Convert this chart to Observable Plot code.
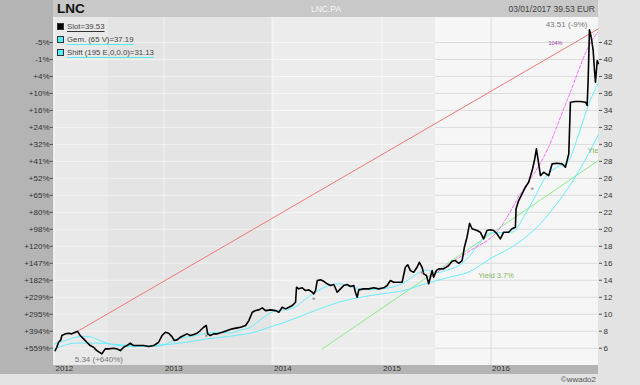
<!DOCTYPE html>
<html><head><meta charset="utf-8">
<script src="https://cdn.jsdelivr.net/npm/d3@7"></script>
<script src="https://cdn.jsdelivr.net/npm/@observablehq/plot@0.6"></script>
<style>
body{margin:0;background:#e3e3e3;font-family:"Liberation Sans",Arial,sans-serif;}
#wrap{position:relative;width:640px;height:385px;overflow:hidden;background:#e3e3e3;}
.abs{position:absolute;}
.leg{position:absolute;left:57px;font-size:7.8px;color:#444;white-space:nowrap;line-height:9px;}
.leg i{display:inline-block;width:5px;height:5px;border:1px solid #333;margin-right:3px;vertical-align:-1px;}
.leg span{text-decoration:underline;text-underline-offset:2px;text-decoration-thickness:1px;}
</style></head><body>
<div id="wrap">
 <div class="abs" style="left:0;top:0;width:53px;height:374px;background:#b4b4b4"></div>
 <div class="abs" style="left:53px;top:0;width:545px;height:17px;background:#c8c8c8"></div>
 <div class="abs" style="left:53px;top:365px;width:545px;height:9px;background:#b4b4b4"></div>
 <div id="chart" class="abs" style="left:0;top:0"></div>
 <div class="abs" style="left:57px;top:1px;font-weight:bold;font-size:13.5px;color:#111">LNC</div>
 <div class="abs" style="left:311px;top:4px;font-size:8.5px;color:#f4f4f4">LNC.PA</div>
 <div class="abs" style="right:45px;top:4px;font-size:8.5px;color:#444">03/01/2017 39.53 EUR</div>
 <div id="legend"></div>
 <div class="abs" style="right:44px;top:375px;font-size:8px;color:#555">©wwado2</div>
</div>
<script>
// ---- data (decimal years, prices in EUR) ----
const priceYears = [2012.006,2012.021,2012.037,2012.058,2012.067,2012.098,2012.128,2012.158,2012.190,2012.211,2012.235,2012.266,2012.296,2012.327,2012.357,2012.387,2012.433,2012.464,2012.495,2012.540,2012.571,2012.602,2012.632,2012.662,2012.693,2012.723,2012.769,2012.815,2012.861,2012.907,2012.952,2012.983,2013.014,2013.044,2013.074,2013.096,2013.120,2013.151,2013.181,2013.212,2013.243,2013.273,2013.303,2013.334,2013.364,2013.389,2013.401,2013.426,2013.456,2013.490,2013.536,2013.582,2013.627,2013.673,2013.703,2013.749,2013.779,2013.810,2013.841,2013.871,2013.902,2013.932,2013.978,2014.024,2014.054,2014.085,2014.115,2014.146,2014.177,2014.207,2014.216,2014.237,2014.268,2014.299,2014.329,2014.360,2014.374,2014.390,2014.406,2014.436,2014.466,2014.497,2014.527,2014.558,2014.589,2014.619,2014.649,2014.680,2014.711,2014.741,2014.756,2014.772,2014.787,2014.832,2014.878,2014.924,2014.970,2015.016,2015.047,2015.077,2015.107,2015.153,2015.184,2015.214,2015.236,2015.260,2015.290,2015.321,2015.342,2015.367,2015.382,2015.407,2015.428,2015.443,2015.459,2015.473,2015.498,2015.519,2015.565,2015.611,2015.642,2015.672,2015.703,2015.734,2015.755,2015.779,2015.803,2015.825,2015.871,2015.901,2015.931,2015.962,2015.993,2016.023,2016.054,2016.084,2016.115,2016.160,2016.191,2016.222,2016.228,2016.252,2016.283,2016.313,2016.343,2016.375,2016.396,2016.414,2016.435,2016.451,2016.481,2016.527,2016.558,2016.603,2016.649,2016.679,2016.710,2016.725,2016.771,2016.817,2016.863,2016.878,2016.887,2016.899,2016.915,2016.933,2016.945,2016.954,2016.970,2016.980];
const priceValues = [5.72,6.11,6.70,6.98,7.49,7.69,7.76,7.69,7.88,7.99,7.49,7.10,6.70,6.31,6.11,5.72,5.34,5.92,5.92,5.99,5.92,5.72,6.11,6.31,6.58,6.31,6.31,6.31,6.19,6.31,6.70,7.49,7.88,7.76,7.37,6.90,6.98,7.29,7.49,7.69,7.49,7.61,7.76,8.08,8.47,8.67,7.69,7.49,7.69,7.69,7.88,8.08,8.28,8.39,8.47,8.67,9.25,10.23,10.43,10.51,10.75,10.43,10.51,10.43,10.23,10.82,10.63,10.82,11.02,11.41,13.18,12.99,13.11,12.79,12.87,12.59,12.40,12.79,13.97,14.05,13.88,13.58,13.38,13.50,12.59,12.99,13.38,13.50,13.26,13.38,12.59,12.00,12.87,12.99,12.99,13.11,12.99,13.11,13.38,13.97,13.77,13.77,13.77,15.53,15.82,15.14,14.94,15.53,16.12,15.53,14.75,14.56,13.58,14.35,15.14,14.35,15.14,15.34,15.34,15.73,16.24,16.32,16.00,16.32,17.89,19.07,20.72,20.06,19.86,19.66,18.88,19.86,19.94,19.86,19.47,18.88,19.66,19.66,20.06,20.24,22.41,23.39,24.18,24.96,25.54,26.92,28.10,29.48,27.71,26.33,26.72,26.33,27.71,27.78,27.71,27.31,28.89,34.97,35.05,35.05,34.97,34.58,37.52,43.51,42.62,41.06,38.70,37.32,39.88,39.53];

// "Gem. (65 V)" moving average
const smaYears  = [2012.0,2012.1,2012.2,2012.3,2012.4,2012.5,2012.6,2012.7,2012.8,2012.9,2013.0,2013.1,2013.2,2013.3,2013.4,2013.5,2013.6,2013.7,2013.8,2013.9,2014.0,2014.1,2014.2,2014.3,2014.4,2014.5,2014.6,2014.7,2014.8,2014.9,2015.0,2015.1,2015.2,2015.3,2015.4,2015.5,2015.6,2015.7,2015.8,2015.9,2016.0,2016.1,2016.2,2016.3,2016.4,2016.5,2016.6,2016.7,2016.8,2016.9,2016.98];
const smaValues = [6.5,6.9,7.3,7.4,7.0,6.5,6.3,6.2,6.2,6.2,6.4,7.0,7.3,7.5,7.8,7.9,7.8,8.1,8.5,9.5,10.3,10.5,10.8,11.8,12.7,13.3,13.6,13.3,13.0,12.9,13.0,13.2,13.7,14.6,15.2,14.9,15.2,15.7,16.8,18.5,19.6,19.6,19.7,21.5,23.8,26.2,27.3,27.9,31.2,35.0,37.19];
// "Shift (195 E,0,0.0)" moving average
const emaYears  = [2012.0,2012.2,2012.4,2012.6,2012.8,2013.0,2013.2,2013.4,2013.6,2013.8,2014.0,2014.2,2014.4,2014.6,2014.8,2015.0,2015.2,2015.4,2015.6,2015.8,2016.0,2016.2,2016.4,2016.6,2016.8,2016.98];
const emaValues = [5.9,6.6,6.6,6.4,6.3,6.4,6.7,7.1,7.4,7.8,8.6,9.5,10.5,11.4,12.0,12.4,12.8,13.6,14.3,15.0,16.6,18.0,20.0,23.0,26.8,31.13];
// trend lines
const redYears = [2012.211, 2016.98],  redValues = [7.99, 43.6];
const greenYears = [2014.45, 2016.98], greenValues = [5.9, 28.1];
const magYears = [2015.44,2015.60,2015.81,2016.06,2016.27,2016.50,2016.695,2016.92,2016.975];
const magValues = [14.3,15.8,17.5,19.8,24.2,29.0,35.2,42.2,43.2];
// dividend marks
const divYears = [2013.389, 2014.374, 2015.367, 2016.375];
const divValues = [7.29, 11.62, 14.76, 24.6];
// axes
const priceTicks = [6,8,10,12,14,16,18,20,22,24,26,28,30,32,34,36,38,40,42];
const pctLabels = ["+559%","+394%","+295%","+229%","+182%","+147%","+120%","+98%","+80%","+65%","+52%","+41%","+32%","+24%","+16%","+10%","+4%","-1%","-5%"];
const yearTicks = [2012,2013,2014,2015,2016];
const bandStart = [2011.9908, 2012.495, 2013.987, 2015.489];
const bandEnd   = [2012.495, 2013.987, 2015.489, 2016.9817];
const bandFill  = ["#e9e9e9", "#e4e4e4", "#ececec", "#f6f6f6"];
const bandGrid  = ["#f3f3f3", "#f1f1f1", "#f8f8f8", "#dcdcdc"];
// legend
const legendLabels = ["Slot=39.53", "Gem. (65 V)=37.19", "Shift (195 E,0,0.0)=31.13"];
const legendColors = ["#000000", "#55eeff", "#55eeff"];
// annotations
const minYear = 2012.433, minPrice = 5.34, minLabel = "5.34 (+640%)";
const maxYear = 2016.899, maxPrice = 43.51, maxLabel = "43.51 (-9%)";
const notes = [{t:2016.524, v:41.9, s:"104%", c:"#a040b0", f:5.5},
               {t:2015.883, v:14.56, s:"Yield 3.7%", c:"#88b868", f:7.5},
               {t:2016.881, v:29.3, s:"Yield", c:"#88b868", f:8}];

// ---- helpers ----
function toDate(y){const yr=Math.floor(y);const s=Date.UTC(yr,0,1),e=Date.UTC(yr+1,0,1);return new Date(s+(y-yr)*(e-s));}
const zip = (ts, vs) => ts.map((t,i)=>({date:toDate(t), v:vs[i]}));
const price = zip(priceYears, priceValues);
const sma = zip(smaYears, smaValues);
const ema = zip(emaYears, emaValues);
const red = zip(redYears, redValues);
const green = zip(greenYears, greenValues);
const mag = zip(magYears, magValues);
const divs = zip(divYears, divValues);
const bands = bandStart.map((s,i)=>({x1:toDate(s), x2:toDate(bandEnd[i]), fill:bandFill[i], grid:bandGrid[i]}));
const gridH = bands.flatMap(b => priceTicks.map(p => ({x1:b.x1, x2:b.x2, y:p, c:b.grid})));
const gridV = yearTicks.map(y => ({x:toDate(y), c: bands.find(b => toDate(y) >= b.x1 && toDate(y) < b.x2).grid}));

const chart = Plot.plot({
  width:640, height:385,
  marginLeft:53, marginRight:42, marginTop:17, marginBottom:20,
  style:{background:"transparent", fontFamily:"'Liberation Sans', Arial, sans-serif", fontSize:"8px", color:"#333", overflow:"visible"},
  x:{type:"utc", domain:[toDate(2011.9908), toDate(2016.9817)], axis:null},
  y:{domain:[3.963, 44.944]},
  marks:[
    Plot.rect(bands, {x1:"x1", x2:"x2", fill:"fill"}),
    Plot.ruleY(gridH, {x1:"x1", x2:"x2", y:"y", stroke:"c", strokeWidth:1}),
    Plot.ruleX(gridV, {x:"x", stroke:"c", strokeWidth:1}),
    Plot.axisY(priceTicks, {anchor:"left", label:null, tickSize:3, tickPadding:1, tickFormat:d=>pctLabels[priceTicks.indexOf(d)], fill:"#333", stroke:"#555"}),
    Plot.axisY(priceTicks, {anchor:"right", label:null, tickSize:3, tickPadding:2, fill:"#333", stroke:"#555"}),
    Plot.text(yearTicks, {x:d=>toDate(d), text:d=>String(d), frameAnchor:"bottom", dy:5, dx:1, textAnchor:"start", fill:"#333", fontSize:8}),
    Plot.line(red, {x:"date", y:"v", stroke:"#f07878", strokeWidth:1}),
    Plot.line(green, {x:"date", y:"v", stroke:"#88ee88", strokeWidth:1}),
    Plot.line(ema, {x:"date", y:"v", stroke:"#66eeff", strokeWidth:1, curve:"monotone-x"}),
    Plot.line(sma, {x:"date", y:"v", stroke:"#66eeff", strokeWidth:1, curve:"monotone-x"}),
    Plot.line(mag, {x:"date", y:"v", stroke:"#ff66ff", strokeWidth:1, strokeDasharray:"3,2", curve:"monotone-x"}),
    Plot.line(price, {x:"date", y:"v", stroke:"#000", strokeWidth:1.6}),
    Plot.text(divs, {x:"date", y:"v", text:()=>"*", fill:"#8a8a8a", fontSize:9}),
    Plot.text(notes, {x:d=>toDate(d.t), y:"v", text:"s", fill:"c", fontSize:d=>d.f, textAnchor:"start", clip:true}),
    Plot.text([{t:minYear, v:minPrice}], {x:d=>toDate(d.t), y:"v", text:()=>minLabel, dy:3, dx:-3, textAnchor:"middle", lineAnchor:"top", fill:"#777", fontSize:8, ariaLabel:"annot"}),
    Plot.text([{t:maxYear, v:maxPrice}], {x:d=>toDate(d.t), y:"v", text:()=>maxLabel, dy:-3, dx:-2, textAnchor:"end", lineAnchor:"bottom", fill:"#777", fontSize:8, ariaLabel:"annot"})
  ]
});
document.getElementById("chart").appendChild(chart);

// boxes behind annotation labels
d3.select(chart).selectAll('g[aria-label="annot"] text').each(function(){
  const b = this.getBBox();
  d3.select(this.parentNode).insert("rect", () => this)
    .attr("x", b.x-2).attr("y", b.y-1).attr("width", b.width+4).attr("height", b.height+2)
    .attr("fill", "#f7f7f7").attr("stroke", "#aaa").attr("stroke-width", 1)
    .attr("transform", this.getAttribute("transform"));
});

// legend
const leg = d3.select("#legend");
legendLabels.forEach((l,i)=>{
  const row = leg.append("div").attr("class","leg").style("top", (22+13*i)+"px");
  row.append("i").style("background", legendColors[i]);
  row.append("span").style("text-decoration-color", i===0 ? "#333" : legendColors[i]).text(l);
});
</script>
</body></html>
